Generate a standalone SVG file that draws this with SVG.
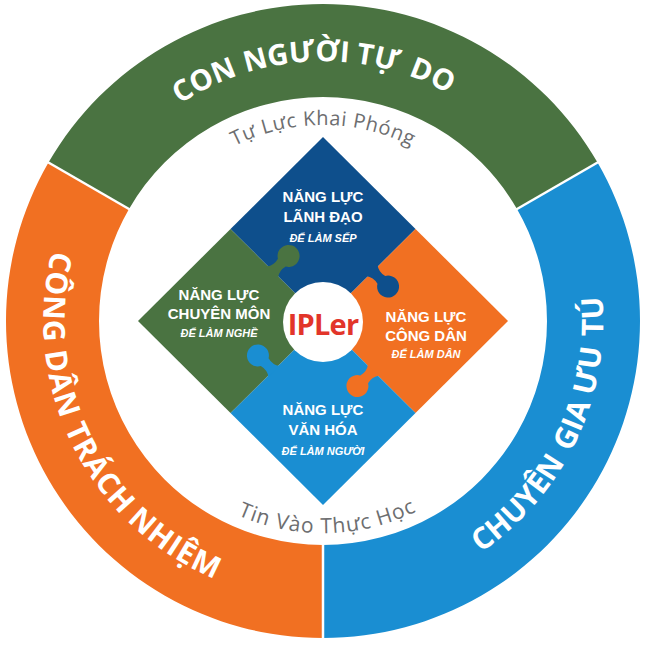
<svg xmlns="http://www.w3.org/2000/svg" width="646" height="650" viewBox="0 0 646 650">
<defs>
<style>
.ring{font-family:"Open Sans","Noto Sans",sans-serif;font-weight:700;font-size:30px;fill:#ffffff}
.motto{font-family:"Open Sans","Noto Sans",sans-serif;font-size:20px;fill:#6d6e70}
.t{font-family:"Liberation Sans","Open Sans",sans-serif;font-weight:700;font-size:15px;fill:#ffffff;text-anchor:middle}
.s{font-family:"Liberation Sans","Open Sans",sans-serif;font-weight:700;font-style:italic;font-size:11px;fill:#ffffff;text-anchor:middle}
.sep{stroke:#ffffff;stroke-width:2.5}
.green{fill:#4a7341}
.orange{fill:#f17022}
.blue{fill:#1a8ed2}
.navy{fill:#0e4f8c}
</style>
<path id="arcTop" d="M 63.3 308.3 A 260 260 0 0 1 580.9 288.4" fill="none"/>
<path id="arcLeft" d="M 175.1 83.3 A 280 280 0 0 0 427.4 580.8" fill="none"/>
<path id="arcRight" d="M 215.4 579.5 A 280 280 0 0 0 473.9 85.1" fill="none"/>
<path id="arcMottoTop" d="M 127.75 303.9 A 196 196 0 0 1 518.25 303.9" fill="none"/>
<path id="arcMottoBot" d="M 112.3 344.3 A 212 212 0 0 0 534.6 334.7" fill="none"/>
<path id="knob" d="M -8 1 Q -3.5 -5 -5.5 -12.5 A 11 11 0 1 1 5.5 -12.5 Q 3.5 -5 8 1 Z"/>
</defs>
<rect width="646" height="650" fill="#ffffff"/>

<g id="ring-green">
<path class="green" d="M 48.47 162.5 A 317 317 0 0 1 597.53 162.5 L 516.99 209 A 224 224 0 0 0 129.01 209 Z"/>
<text class="ring" style="font-size:29px"><textPath href="#arcTop" startOffset="276.3" text-anchor="middle">CON</textPath></text>
<text class="ring" style="font-size:29px"><textPath href="#arcTop" startOffset="369.3" text-anchor="middle">NGƯỜI</textPath></text>
<text class="ring" style="font-size:29px"><textPath href="#arcTop" startOffset="449.3" text-anchor="middle">TỰ</textPath></text>
<text class="ring" style="font-size:29px"><textPath href="#arcTop" startOffset="504.3" text-anchor="middle">DO</textPath></text>
</g>
<g id="ring-orange">
<path class="orange" d="M 323 638 A 317 317 0 0 1 48.47 162.5 L 129.01 209 A 224 224 0 0 0 323 545 Z"/>
<text class="ring" letter-spacing="1"><textPath href="#arcLeft" startOffset="259" text-anchor="middle">CÔNG</textPath></text>
<text class="ring" letter-spacing="1"><textPath href="#arcLeft" startOffset="349.4" text-anchor="middle">DÂN</textPath></text>
<text class="ring" letter-spacing="1"><textPath href="#arcLeft" startOffset="446.2" text-anchor="middle">TRÁCH</textPath></text>
<text class="ring" letter-spacing="1"><textPath href="#arcLeft" startOffset="559.1" text-anchor="middle">NHIỆM</textPath></text>
</g>
<g id="ring-blue">
<path class="blue" d="M 597.53 162.5 A 317 317 0 0 1 323 638 L 323 545 A 224 224 0 0 0 516.99 209 Z"/>
<text class="ring"><textPath href="#arcRight" startOffset="340" text-anchor="middle">CHUYÊN</textPath></text>
<text class="ring"><textPath href="#arcRight" startOffset="440" text-anchor="middle">GIA</textPath></text>
<text class="ring"><textPath href="#arcRight" startOffset="499" text-anchor="middle">ƯU</textPath></text>
<text class="ring"><textPath href="#arcRight" startOffset="555" text-anchor="middle">TÚ</textPath></text>
</g>
<g id="ring-separators">
<line class="sep" x1="130.7" y1="210" x2="46.7" y2="161.5"/>
<line class="sep" x1="515.3" y1="210" x2="599.3" y2="161.5"/>
<line class="sep" x1="323" y1="543" x2="323" y2="640"/>
</g>

<g id="motto-top">
<text class="motto" letter-spacing="0.6"><textPath href="#arcMottoTop" startOffset="50%" text-anchor="middle">Tự Lực Khai Phóng</textPath></text>
</g>
<g id="motto-bottom">
<text class="motto" style="font-size:21px" letter-spacing="1"><textPath href="#arcMottoBot" startOffset="50%" text-anchor="middle">Tin Vào Thực Học</textPath></text>
</g>

<g id="piece-leadership">
<polygon class="navy" points="323,137 415.5,229 323,321 230.5,229"/>
</g>
<g id="piece-civic">
<polygon class="orange" points="415.5,229 508,321 415.5,413 323,321"/>
</g>
<g id="piece-culture">
<polygon class="blue" points="323,321 415.5,413 323,505 230.5,413"/>
</g>
<g id="piece-profession">
<polygon class="green" points="230.5,229 323,321 230.5,413 138,321"/>
</g>
<g id="knobs">
<use href="#knob" class="green" transform="translate(273 271.5) rotate(45)"/>
<use href="#knob" class="navy" transform="rotate(90 323 321) translate(273 271.5) rotate(45)"/>
<use href="#knob" class="orange" transform="rotate(180 323 321) translate(273 271.5) rotate(45)"/>
<use href="#knob" class="blue" transform="rotate(270 323 321) translate(273 271.5) rotate(45)"/>
</g>

<g id="label-leadership">
<text class="t" x="323" y="202">NĂNG LỰC</text>
<text class="t" x="323" y="222">LÃNH ĐẠO</text>
<text class="s" x="323" y="242">ĐỂ LÀM SẾP</text>
</g>
<g id="label-profession">
<text class="t" x="219" y="300">NĂNG LỰC</text>
<text class="t" x="219" y="319">CHUYÊN MÔN</text>
<text class="s" x="219" y="337">ĐỂ LÀM NGHỀ</text>
</g>
<g id="label-civic">
<text class="t" x="426" y="322">NĂNG LỰC</text>
<text class="t" x="426" y="341">CÔNG DÂN</text>
<text class="s" x="426" y="358">ĐỂ LÀM DÂN</text>
</g>
<g id="label-culture">
<text class="t" x="323" y="415">NĂNG LỰC</text>
<text class="t" x="323" y="435">VĂN HÓA</text>
<text class="s" x="323" y="455">ĐỂ LÀM NGƯỜI</text>
</g>

<g id="center">
<circle cx="323" cy="322" r="40" fill="#ffffff"/>
<text x="323" y="335" text-anchor="middle" style="font-family:'Open Sans','Noto Sans',sans-serif;font-weight:700;font-size:29px;fill:#e2352a;letter-spacing:-0.8px">IPLer</text>
</g>
<g id="connectors"/>
</svg>
